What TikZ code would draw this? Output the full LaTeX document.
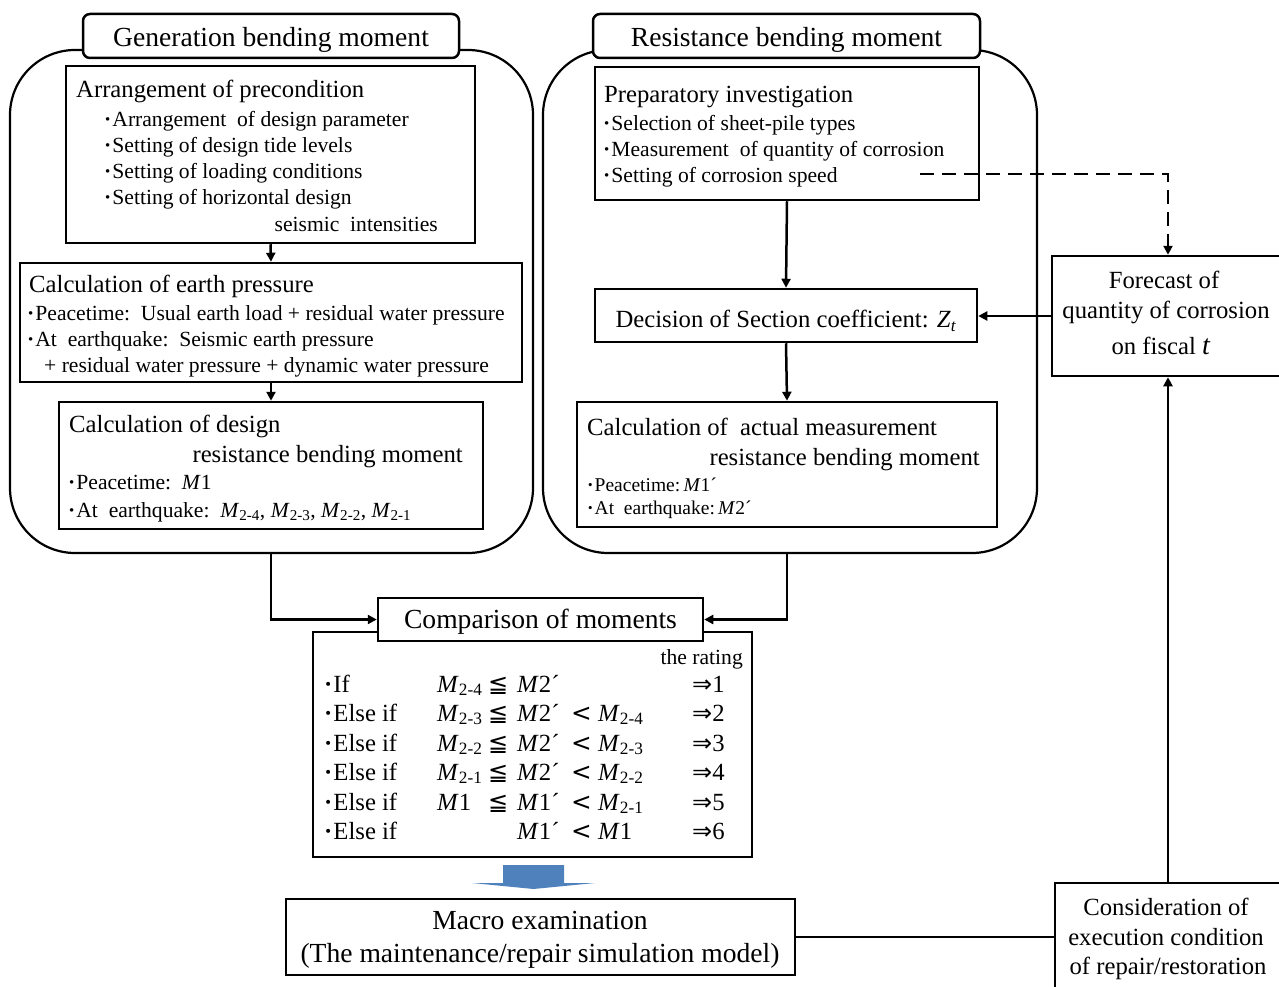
\documentclass[tikz,border=0pt]{standalone}
\usepackage{fontspec}
\setmainfont{Liberation Serif}
\newfontfamily\symf{DejaVu Sans}
\usetikzlibrary{arrows.meta}
\newcommand{\fzT}{\fontsize{27.6}{31}\selectfont}
\newcommand{\fzH}{\fontsize{24.7}{28}\selectfont}
\newcommand{\fzB}{\fontsize{21.6}{25}\selectfont}
\newcommand{\fzS}{\fontsize{19.5}{22}\selectfont}
\newcommand{\mybul}{\textbf{·}\kern1pt}
\newcommand{\Msub}[1]{\textit{M}\textsubscript{#1}}
\newcommand{\myle}{{\symf\fontsize{24}{26}\selectfont ≦}}
\newcommand{\mylt}{{\symf <}}
\newcommand{\myimp}{{\symf\fontsize{24}{26}\selectfont ⇒}}
\newcommand{\cmprow}[7]{\makebox[113pt][l]{\mybul #1}\makebox[51pt][l]{#2}\makebox[29pt][l]{#3}\makebox[54pt][l]{#4}\makebox[27pt][l]{#5}\makebox[94pt][l]{#6}\myimp#7}
\definecolor{arrblue}{HTML}{4F81BD}
\tikzset{
  box/.style={draw, line width=2.5pt, fill=white, inner sep=0pt},
  tbox/.style={draw, line width=2.5pt, fill=white, inner sep=0pt, rounded corners=7pt},
  fixt/.style={text height=0.7em, text depth=0.25em},
  panel/.style={draw, line width=2.2pt, rounded corners=65pt, inner sep=0pt},
  tl/.style={anchor=west, inner sep=0pt, text height=0.7em, text depth=0.25em},
  tr/.style={anchor=east, inner sep=0pt, text height=0.7em, text depth=0.25em},
  tc/.style={anchor=center, inner sep=0pt, text height=0.7em, text depth=0.25em},
  conn/.style={line width=2.5pt},
  arr/.style={conn, -{Triangle[length=9pt,width=9pt]}},
}
\begin{document}
\begin{tikzpicture}[x=1pt,y=-1pt]
\useasboundingbox (0,0) rectangle (1279,987);
% panels
\node (lp) [panel, minimum width=523pt, minimum height=503pt] at (271.5,301.5) {};
\node (rp) [panel, minimum width=494pt, minimum height=503pt] at (790,301.5) {};
\node (lt) [tbox, fixt, minimum width=376pt, minimum height=44pt, font=\fzT] at (271,36) {\raisebox{-8pt}{Generation bending moment}};
\node (rt) [tbox, fixt, minimum width=387pt, minimum height=44pt, font=\fzT] at (786.5,36) {\raisebox{-8pt}{Resistance bending moment}};
% boxes
\node (pre) [box, minimum width=409pt, minimum height=177pt] at (270.5,154.5) {};
\node (earth) [box, minimum width=502pt, minimum height=119pt] at (271,322.5) {};
\node (des) [box, minimum width=424pt, minimum height=127pt] at (271,465.5) {};
\node (prep) [box, minimum width=384pt, minimum height=133pt] at (787,133.5) {};
\node (dec) [box, fixt, minimum width=382pt, minimum height=53pt, font=\fzH] at (786,315.5) {\raisebox{-10pt}{Decision of Section coefficient: \textit{Z}\textsubscript{\textit{t}}}};
\node (act) [box, minimum width=420pt, minimum height=125pt] at (787,464.5) {};
\node (fc) [box, minimum width=232pt, minimum height=120pt] at (1168,316) {};
\node (cons) [box, minimum width=228pt, minimum height=112pt] at (1169,939) {};
\node (mac) [box, minimum width=509pt, minimum height=76pt] at (540.5,937) {};
\node (tab) [box, minimum width=439pt, minimum height=225pt] at (532.5,744.5) {};
\node (cmp) [box, fixt, minimum width=325pt, minimum height=43pt, font=\fzT] at (540.5,619.5) {\raisebox{-6.5pt}{Comparison of moments}};
% blue arrow
\fill[arrblue] (503,865) -- (564,865) -- (564,883) -- (595,883) -- (533.5,889) -- (472,883) -- (503,883) -- cycle;
% connectors
\coordinate (ds) at (920,174);
\draw[arr] (pre.south) -- (earth.north);
\draw[arr] (earth.south) -- (des.north);
\draw[arr] (prep.south) -- (dec.north);
\draw[arr] (dec.south) -- (act.north);
\draw[arr] (fc.west) -- (fc.west -| dec.east);
\draw[arr, dash pattern=on 14pt off 8pt] (ds) -| (fc.north);
\draw[arr] (earth.north |- lp.south) |- (cmp.west);
\draw[arr] (act.north |- rp.south) |- (cmp.east);
\draw[arr] (fc.south |- cons.north) -- (fc.south);
\draw[conn] (mac.east) -- (mac.east -| cons.west);
\begin{scope}[yshift=-5pt]
% left texts
\node (a0) [tl, font=\fzH] at (76,90) {Arrangement of precondition};
\node (a1) [tl, font=\fzB] at (104,119) {\mybul Arrangement\ \ of design parameter};
\node (a2) [tl, font=\fzB] at (104,145) {\mybul Setting of design tide levels};
\node (a3) [tl, font=\fzB] at (104,171) {\mybul Setting of loading conditions};
\node (a4) [tl, font=\fzB] at (104,197) {\mybul Setting of horizontal design};
\node (a5) [tr, font=\fzB] at (438,224) {seismic\ \ intensities};
\node (e0) [tl, font=\fzH] at (29,285) {Calculation of earth pressure};
\node (e1) [tl, font=\fzB] at (27,313) {\mybul Peacetime:\ \ Usual earth load + residual water pressure};
\node (e2) [tl, font=\fzB] at (27,339) {\mybul At\ \ earthquake:\ \ Seismic earth pressure};
\node (e3) [tl, font=\fzB] at (44,365) {+ residual water pressure + dynamic water pressure};
\node (d0) [tl, font=\fzH] at (69,425) {Calculation of design};
\node (d1) [tr, font=\fzH] at (463,455) {resistance bending moment};
\node (d2) [tl, font=\fzB] at (68,482) {\mybul Peacetime:\ \ \textit{M}1};
\node (d3) [tl, font=\fzB] at (68,510) {\mybul At\ \ earthquake:\ \ \Msub{2-4}, \Msub{2-3}, \Msub{2-2}, \Msub{2-1}};
% right texts
\node (p0) [tl, font=\fzH] at (604,95) {Preparatory investigation};
\node (p1) [tl, font=\fzB] at (603,123) {\mybul Selection of sheet-pile types};
\node (p2) [tl, font=\fzB] at (603,149) {\mybul Measurement\ \ of quantity of corrosion};
\node (p3) [tl, font=\fzB] at (603,175) {\mybul Setting of corrosion speed};
\node (c0) [tl, font=\fzH] at (587,428) {Calculation of\ \ actual measurement};
\node (c1) [tr, font=\fzH] at (980,458) {resistance bending moment};
\node (c2) [tl, font=\fzS] at (587,484) {\mybul Peacetime:\,\textit{M}1´};
\node (c3) [tl, font=\fzS] at (587,507) {\mybul At\ \ earthquake:\,\textit{M}2´};
% forecast
\node (f1) [tc, font=\fzH] at (1164,281) {Forecast of};
\node (f2) [tc, font=\fzH] at (1166,311) {quantity of corrosion};
\node (f3) [tc, font=\fzH] at (1161,347) {on fiscal {\fontsize{28}{30}\selectfont\textit{t}}};
% consideration
\node (k1) [tc, font=\fzH] at (1166,908) {Consideration of};
\node (k2) [tc, font=\fzH] at (1166,938) {execution condition};
\node (k3) [tc, font=\fzH] at (1168,967) {of repair/restoration};
% macro
\node (m1) [tc, font=\fzT] at (540,922) {Macro examination};
\node (m2) [tc, font=\fzT] at (540,955) {(The maintenance/repair simulation model)};
% table
\node (rating) [tr, font=\fzB] at (743,657) {the rating};
\node (r1) [tl, font=\fzH] at (324,685) {\cmprow{If}{\Msub{2-4}}{\myle}{\textit{M}2´}{}{}{1}};
\node (r2) [tl, font=\fzH] at (324,714) {\cmprow{Else if}{\Msub{2-3}}{\myle}{\textit{M}2´}{\mylt}{\Msub{2-4}}{2}};
\node (r3) [tl, font=\fzH] at (324,744) {\cmprow{Else if}{\Msub{2-2}}{\myle}{\textit{M}2´}{\mylt}{\Msub{2-3}}{3}};
\node (r4) [tl, font=\fzH] at (324,773) {\cmprow{Else if}{\Msub{2-1}}{\myle}{\textit{M}2´}{\mylt}{\Msub{2-2}}{4}};
\node (r5) [tl, font=\fzH] at (324,803) {\cmprow{Else if}{\textit{M}1}{\myle}{\textit{M}1´}{\mylt}{\Msub{2-1}}{5}};
\node (r6) [tl, font=\fzH] at (324,832) {\cmprow{Else if}{}{}{\textit{M}1´}{\mylt}{\textit{M}1}{6}};
\end{scope}
\end{tikzpicture}
\end{document}
